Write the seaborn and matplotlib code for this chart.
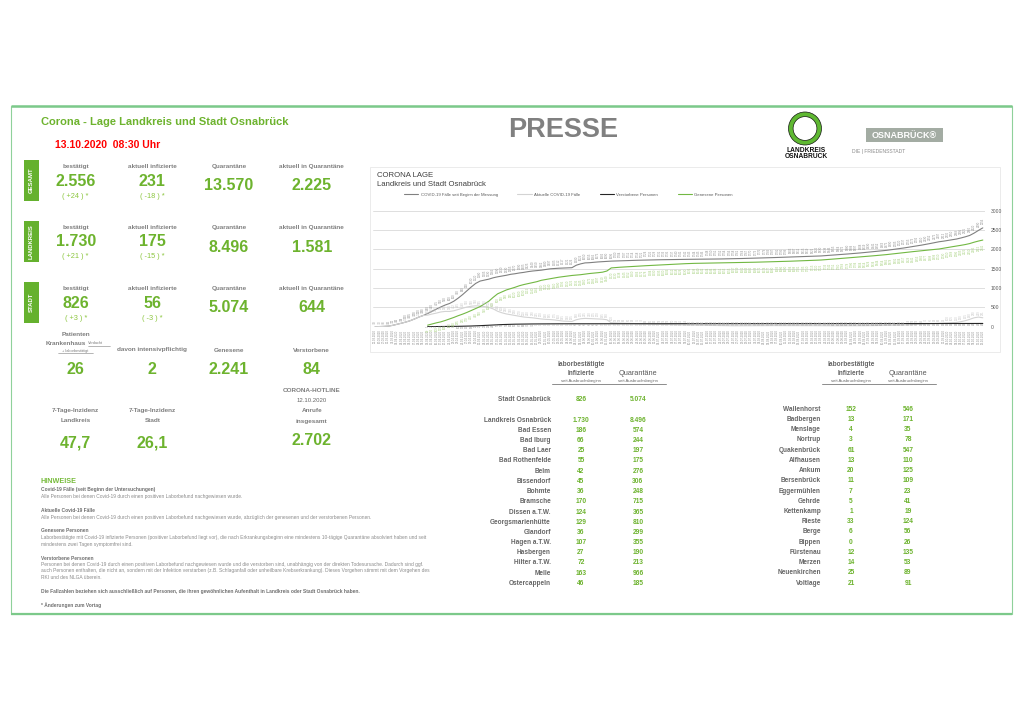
import numpy as np
import pandas as pd
import matplotlib
matplotlib.use("Agg")
import matplotlib.pyplot as plt
import seaborn as sns
from matplotlib.patches import Rectangle, Circle
from matplotlib.lines import Line2D

sns.set_theme(style="white")
plt.rcParams['font.family'] = ['Liberation Sans', 'DejaVu Sans']

# ---------------- data ----------------
dates = pd.bdate_range('2020-03-25', '2020-10-13', freq='C',
                       holidays=['2020-04-10', '2020-04-13', '2020-05-01',
                                 '2020-05-21', '2020-06-01'])
date_labels = [d.strftime('%d.%m.%Y') for d in dates]
nan = np.nan

faelle_gesamt = [
    0, 3, 8, 15, 35, 62, 90, 120, 155, 200,
    250, 290, 340, 400, 455, 510, 560, 600, 660, 740,
    830, 930, 1030, 1120, 1180, 1205, 1230, 1265, 1290, 1310,
    1330, 1355, 1370, 1390, 1405, 1425, 1440, 1450, 1462, 1480,
    1497, 1505, 1512, 1517, 1521, 1526, 1590, 1625, 1650, 1655,
    1665, 1675, 1682, 1690, 1696, 1700, 1704, 1707, 1711, 1714,
    1718, 1721, 1724, 1726, 1728, 1731, 1733, 1735, 1737, 1740,
    1741, 1742, 1743, 1744, 1745, 1746, 1748, 1750, 1751, 1752,
    1754, 1756, 1758, 1761, 1764, 1767, 1770, 1773, 1776, 1779,
    1783, 1787, 1791, 1795, 1799, 1803, 1807, 1811, 1815, 1819,
    1822, 1826, 1830, 1838, 1846, 1855, 1864, 1872, 1880, 1889,
    1897, 1908, 1919, 1930, 1941, 1952, 1963, 1975, 1990, 2005,
    2020, 2037, 2055, 2073, 2092, 2110, 2130, 2152, 2175, 2197,
    2212, 2230, 2250, 2268, 2295, 2325, 2360, 2420, 2490, 2556]

aktuelle_faelle = [
    0, 3, 8, 15, 35, 62, 90, 120, 155, 200,
    250, 290, 299, 328, 352, 381, 395, 394, 412, 445,
    480, 510, 530, 540, 535, 520, 500, 460, 400, 360,
    330, 310, 290, 270, 250, 240, 230, 215, 200, 190,
    185, 175, 160, 145, 140, 135, 180, 205, 215, 210,
    205, 200, 195, 180, 100, 95, 90, 88, 85, 82,
    75, 72, 68, 65, 62, 58, 55, 52, 50, 48,
    46, 44, 42, 40, 38, 36, 34, 32, 30, 28,
    26, 25, 24, 24, 25, 25, 26, 27, 27, 28,
    28, 29, 29, 30, 30, 30, 29, 29, 29, 28,
    28, 27, 26, 26, 25, 25, 25, 24, 24, 24,
    24, 26, 27, 28, 29, 30, 31, 32, 34, 36,
    38, 42, 47, 52, 58, 64, 70, 76, 82, 88,
    94, 100, 105, 110, 130, 155, 190, 230, 249, 231]

verstorbene = [
    nan, nan, nan, nan, nan, nan, nan, nan, nan, nan,
    nan, nan, 1, 2, 3, 4, 5, 6, 8, 10,
    12, 15, 18, 22, 27, 33, 38, 44, 50, 55,
    59, 62, 65, 67, 69, 70, 71, 72, 73, 73,
    74, 74, 75, 75, 75, 75, 76, 76, 76, 76,
    76, 76, 77, 77, 77, 77, 77, 77, 77, 77,
    77, 77, 77, 77, 77, 77, 78, 78, 78, 78,
    78, 78, 78, 78, 78, 78, 78, 78, 78, 78,
    78, 78, 78, 78, 78, 78, 79, 79, 79, 79,
    79, 79, 79, 79, 79, 79, 79, 79, 79, 79,
    79, 79, 79, 79, 79, 80, 80, 80, 80, 80,
    80, 80, 80, 80, 80, 80, 80, 81, 81, 81,
    81, 81, 81, 81, 81, 82, 82, 82, 82, 82,
    82, 82, 83, 83, 83, 83, 83, 84, 84, 84]

genesene = [
    nan, nan, nan, nan, nan, nan, nan, nan, nan, nan,
    nan, nan, 40, 70, 100, 125, 160, 200, 240, 285,
    325, 370, 420, 470, 520, 590, 660, 760, 850, 900,
    950, 985, 1020, 1060, 1090, 1115, 1140, 1165, 1200, 1220,
    1240, 1260, 1280, 1295, 1310, 1325, 1335, 1345, 1360, 1375,
    1385, 1397, 1410, 1440, 1520, 1530, 1538, 1545, 1552, 1560,
    1566, 1572, 1578, 1584, 1590, 1595, 1600, 1606, 1612, 1618,
    1624, 1630, 1635, 1638, 1640, 1642, 1644, 1646, 1648, 1651,
    1653, 1655, 1657, 1659, 1661, 1663, 1666, 1668, 1671, 1674,
    1677, 1680, 1683, 1686, 1690, 1694, 1698, 1701, 1705, 1710,
    1715, 1720, 1725, 1733, 1742, 1751, 1760, 1769, 1778, 1786,
    1794, 1804, 1814, 1824, 1834, 1844, 1854, 1865, 1878, 1891,
    1904, 1917, 1929, 1941, 1953, 1966, 1977, 1988, 1999, 2010,
    2030, 2050, 2068, 2086, 2105, 2125, 2150, 2185, 2215, 2241]

series_names = ["COVID-19 Fälle seit Beginn der Messung", "Aktuelle COVID-19 Fälle",
                "Verstorbene Personen", "Genesene Personen"]
series_values = [faelle_gesamt, aktuelle_faelle, verstorbene, genesene]
series_colors = ["#808080", "#d3d3d3", "#262626", "#72b843"]
label_colors = ["#8c8c8c", "#c4c4c4", "#9a9a9a", "#a3cf7a"]

panel_names = ["GESAMT", "LANDKREIS", "STADT"]
bestaetigt = [2556, 1730, 826]
bestaetigt_delta = ["+24", "+21", "+3"]
aktuell_infiziert = [231, 175, 56]
aktuell_delta = ["-18", "-15", "-3"]
quarantaene = [13570, 8496, 5074]
aktuell_quarantaene = [2225, 1581, 644]

krankenhaus = 26
intensiv = 2
genesen_gesamt = 2241
verstorben_gesamt = 84
inzidenz_landkreis = "47,7"
inzidenz_stadt = "26,1"
hotline_datum = "12.10.2020"
hotline_anrufe = 2702

left_names = ["Stadt Osnabrück", "Landkreis Osnabrück", "Bad Essen", "Bad Iburg", "Bad Laer",
              "Bad Rothenfelde", "Belm", "Bissendorf", "Bohmte", "Bramsche", "Dissen a.T.W.",
              "Georgsmarienhütte", "Glandorf", "Hagen a.T.W.", "Hasbergen", "Hilter a.T.W.",
              "Melle", "Ostercappeln"]
left_infiziert = [826, 1730, 186, 66, 25, 55, 42, 45, 36, 170, 124, 129, 36, 107, 27, 72, 163, 46]
left_quarantaene = [5074, 8496, 574, 244, 197, 175, 276, 306, 248, 715, 365, 810, 299, 355,
                    190, 213, 966, 185]
right_names = ["Wallenhorst", "Badbergen", "Menslage", "Nortrup", "Quakenbrück", "Alfhausen",
               "Ankum", "Bersenbrück", "Eggermühlen", "Gehrde", "Kettenkamp", "Rieste", "Berge",
               "Bippen", "Fürstenau", "Merzen", "Neuenkirchen", "Voltlage"]
right_infiziert = [152, 13, 4, 3, 61, 13, 20, 11, 7, 5, 1, 33, 6, 0, 12, 14, 25, 21]
right_quarantaene = [546, 171, 35, 78, 547, 110, 125, 109, 23, 41, 19, 124, 56, 26, 135, 53, 89, 91]

hinweise = [
    ("Covid-19 Fälle (seit Beginn der Untersuchungen)", True, 490.0),
    ("Alle Personen bei denen Covid-19 durch einen positiven Laborbefund nachgewiesen wurde.", False, 496.7),
    ("Aktuelle Covid-19 Fälle", True, 510.3),
    ("Alle Personen bei denen Covid-19 durch einen positiven Laborbefund nachgewiesen wurde, abzüglich der genesenen und der verstorbenen Personen.", False, 517.3),
    ("Genesene Personen", True, 530.7),
    ("Laborbestätigte mit Covid-19 infizierte Personen (positiver Laborbefund liegt vor), die nach Erkrankungsbeginn eine mindestens 10-tägige Quarantäne absolviert haben und seit", False, 537.7),
    ("mindestens zwei Tagen symptomfrei sind.", False, 544.3),
    ("Verstorbene Personen", True, 558.0),
    ("Personen bei denen Covid-19 durch einen positiven Laborbefund nachgewiesen wurde und die verstorben sind, unabhängig von der direkten Todesursache. Dadurch sind ggf.", False, 564.7),
    ("auch Personen enthalten, die nicht an, sondern mit der Infektion verstarben (z.B. Schlaganfall oder unheilbare Krebserkrankung). Dieses Vorgehen stimmt mit dem Vorgehen des", False, 570.9),
    ("RKI und des NLGA überein.", False, 577.7),
    ("Die Fallzahlen beziehen sich ausschließlich auf Personen, die ihren gewöhnlichen Aufenthalt in Landkreis oder Stadt Osnabrück haben.", True, 591.3),
    ("* Änderungen zum Vortag", True, 605.0),
]

N = len(date_labels)
assert all(len(s) == N for s in series_values), [len(s) for s in series_values]

GREEN = "#6db32e"
GREEN_LIGHT = "#8cc63f"
GRAY = "#7f7f7f"
GRAY_D = "#666666"


def de(n):
    return f"{n:,}".replace(",", ".")


# ---------------- figure ----------------
W, H = 1020, 721
fig = plt.figure(figsize=(W / 100, H / 100), dpi=100)
fig.patch.set_facecolor("white")
bg = fig.add_axes([0, 0, 1, 1])
bg.set_xlim(0, W)
bg.set_ylim(H, 0)
bg.axis("off")


def T(x, y, s, size, color, weight="bold", ha="center", va="center", **kw):
    return bg.text(x, y, s, fontsize=size, color=color, fontweight=weight,
                   ha=ha, va=va, **kw)


# outer frame
bg.add_patch(Rectangle((11, 106), 1001, 508, fill=False, edgecolor="#8fd19a", lw=0.8))
bg.plot([11, 1012], [106, 106], color="#7cc98a", lw=1.8, solid_capstyle="butt")
bg.plot([11, 1012], [614, 614], color="#7cc98a", lw=1.6, solid_capstyle="butt")

# header
T(41.5, 122.3, "Corona - Lage Landkreis und Stadt Osnabrück", 8, GREEN, ha="left")
T(55.5, 144.5, "13.10.2020  08:30 Uhr", 7.5, "#ff0000", ha="left")
T(508, 130, "PRESSE", 19.5, "#808080", ha="left")

# Landkreis logo
bg.add_patch(Circle((805, 128.5), 14.2, fill=False, edgecolor="#5fb832", lw=3.4))
bg.add_patch(Circle((805, 128.5), 16.5, fill=False, edgecolor="#1a1a1a", lw=0.5))
bg.add_patch(Circle((805, 128.5), 11.9, fill=False, edgecolor="#1a1a1a", lw=0.5))
T(806, 150.3, "LANDKREIS", 4.8, "#111111")
T(806, 156.3, "OSNABRÜCK", 4.8, "#111111")
# Stadt logo
bg.add_patch(Rectangle((866, 127.5), 77, 14.5, facecolor="#a3aca3", edgecolor="none"))
T(904.5, 135, "OSNABRÜCK®", 6.5, "white")
T(852, 151, "DIE | FRIEDENSSTADT", 3.6, "#8c8c8c", weight="normal", ha="left")

# stat panels
cols_x = [75.7, 152.3, 229, 311.7]
headers = ["bestätigt", "aktuell infizierte", "Quarantäne", "aktuell in Quarantäne"]
panel_top = [160, 221, 282]
for k in range(3):
    top = panel_top[k]
    bg.add_patch(Rectangle((24, top), 15, 41, facecolor="#65b12e", edgecolor="none"))
    T(31.5, top + 20.5, panel_names[k], 4.3, "white", rotation=90)
    yh = top + 6.3
    for cx, h in zip(cols_x, headers):
        T(cx, yh, h, 4.6, GRAY)
    T(cols_x[0], top + 21, de(bestaetigt[k]), 11.5, GREEN)
    T(cols_x[1], top + 21, de(aktuell_infiziert[k]), 11.5, GREEN)
    T(cols_x[2], top + 26, de(quarantaene[k]), 11.5, GREEN)
    T(cols_x[3], top + 26, de(aktuell_quarantaene[k]), 11.5, GREEN)
    T(cols_x[0], top + 36, f"( {bestaetigt_delta[k]} ) *", 5.3, GREEN_LIGHT, weight="normal")
    T(cols_x[1], top + 36, f"( {aktuell_delta[k]} ) *", 5.3, GREEN_LIGHT, weight="normal")

# hospital row
T(cols_x[0], 334.3, "Patienten", 4.6, GRAY)
T(86.5, 343.7, "Krankenhaus", 4.6, GRAY, ha="right")
T(88, 343.2, "Verdacht", 2.8, GRAY, weight="normal", ha="left")
bg.plot([88, 110], [345.6, 345.6], color=GRAY, lw=0.4)
T(75.5, 350.8, "+ laborbestätigt", 2.8, GRAY, weight="normal")
bg.plot([58, 93], [353, 353], color=GRAY, lw=0.4)
T(cols_x[1], 350, "davon intensivpflichtig", 4.6, GRAY)
T(cols_x[2], 350, "Genesene", 4.6, GRAY)
T(cols_x[3], 350, "Verstorbene", 4.6, GRAY)
T(cols_x[0], 369.3, de(krankenhaus), 11.5, GREEN)
T(cols_x[1], 369.3, de(intensiv), 11.5, GREEN)
T(cols_x[2], 369.3, de(genesen_gesamt), 11.5, GREEN)
T(cols_x[3], 369.3, de(verstorben_gesamt), 11.5, GREEN)

# hotline & incidence
T(cols_x[3], 390, "CORONA-HOTLINE", 4.6, GRAY)
T(cols_x[3], 400.7, hotline_datum, 4.3, GRAY_D, weight="normal")
T(cols_x[3], 410.7, "Anrufe", 4.6, GRAY)
T(cols_x[3], 421, "insgesamt", 4.6, GRAY)
T(cols_x[3], 440.3, de(hotline_anrufe), 11.5, GREEN)
T(cols_x[0], 410.7, "7-Tage-Inzidenz", 4.6, GRAY)
T(cols_x[0], 421, "Landkreis", 4.6, GRAY)
T(cols_x[0], 443.3, inzidenz_landkreis, 11.5, GREEN)
T(cols_x[1], 410.7, "7-Tage-Inzidenz", 4.6, GRAY)
T(cols_x[1], 421, "Stadt", 4.6, GRAY)
T(cols_x[1], 443.3, inzidenz_stadt, 11.5, GREEN)

# hints
T(41, 481.7, "HINWEISE", 5.2, "#76bb3a", ha="left")
for txt, bold, y in hinweise:
    T(41, y, txt, 3.55, "#6f6f6f" if bold else "#8c8c8c",
      weight="bold" if bold else "normal", ha="left")


# municipality tables
def table(x_lab, x_inf, x_q, rows_y, names, inf, q):
    T(x_inf, 365, "laborbestätigte", 4.7, GRAY_D)
    T(x_inf, 373.3, "Infizierte", 4.7, GRAY_D)
    T(x_q, 373.3, "Quarantäne", 5.3, "#595959", weight="normal")
    T(x_inf, 381, "seit Ausbruchsbeginn", 3.1, GRAY_D, weight="normal")
    T(x_q, 381, "seit Ausbruchsbeginn", 3.1, GRAY_D, weight="normal")
    bg.plot([x_lab + 1.5, x_q + 28], [384.3, 384.3], color="#8c8c8c", lw=0.7)
    for y, n, a, b in zip(rows_y, names, inf, q):
        T(x_lab, y, n, 4.7, GRAY_D, ha="right")
        T(x_inf, y, de(a), 4.8, GREEN)
        T(x_q, y, de(b), 4.8, GREEN)


left_y = [399.3, 420.3] + [430.4 + 10.2 * k for k in range(16)]
table(551, 581, 638, left_y, left_names, left_infiziert, left_quarantaene)
right_y = [409.3 + 10.22 * k for k in range(18)]
table(821, 851, 908, right_y, right_names, right_infiziert, right_quarantaene)

# ---------------- chart ----------------
bg.add_patch(Rectangle((370, 167), 630, 185, fill=False, edgecolor="#e8e8e8", lw=0.6))
T(377, 175.5, "CORONA LAGE", 5.6, "#404040", weight="normal", ha="left")
T(377, 185, "Landkreis und Stadt Osnabrück", 5.6, "#404040", weight="normal", ha="left")

x0, x1, y_top, y_zero = 373, 985, 210.7, 326.7
ax = fig.add_axes([x0 / W, 1 - y_zero / H, (x1 - x0) / W, (y_zero - y_top) / H])
ax.set_facecolor("none")

idx = np.arange(N)
df = pd.DataFrame({
    "i": np.tile(idx, 4),
    "wert": np.concatenate([np.asarray(s, dtype=float) for s in series_values]),
    "serie": np.repeat(series_names, N),
}).dropna()
sns.lineplot(data=df, x="i", y="wert", hue="serie", hue_order=series_names,
             palette=dict(zip(series_names, series_colors)), linewidth=0.8,
             estimator=None, sort=False, legend=False, ax=ax)

# data labels
offsets = [(2.6, "bottom"), (1.8, "bottom"), (0, "center"), (-2.6, "top")]
for vals, lc, (dy, va) in zip(series_values, label_colors, offsets):
    for i, v in enumerate(vals):
        if np.isnan(v):
            continue
        ax.annotate(f"{int(v)}", xy=(i, v), xytext=(0, dy), textcoords="offset points",
                    rotation=90, ha="center", va=va, fontsize=2.0, color=lc,
                    annotation_clip=False)

ax.set_xlim(-0.5, N - 0.5)
ax.set_ylim(0, 3000)
ax.set_yticks(np.arange(0, 3001, 500))
ax.yaxis.tick_right()
ax.set_xticks(idx)
ax.set_xticklabels(date_labels, rotation=90, fontsize=2.0, color="#8c8c8c")
ax.tick_params(axis="y", length=0, pad=4, labelsize=3.6, labelcolor="#595959")
ax.tick_params(axis="x", length=0, pad=2)
ax.grid(axis="y", color="#d9d9d9", lw=0.6)
ax.grid(axis="x", visible=False)
ax.set_xlabel("")
ax.set_ylabel("")
for s in ax.spines.values():
    s.set_visible(False)

handles = [Line2D([0], [0], color=c, lw=0.8) for c in series_colors]
fig.legend(handles, series_names, loc="center left",
           bbox_to_anchor=(402 / W, 1 - 194.5 / H), ncol=4, frameon=False,
           fontsize=3.1, handlelength=3.3, handletextpad=0.5, columnspacing=4.6,
           borderpad=0, labelcolor="#595959")

fig.savefig("out.png", dpi=100, facecolor="white")
